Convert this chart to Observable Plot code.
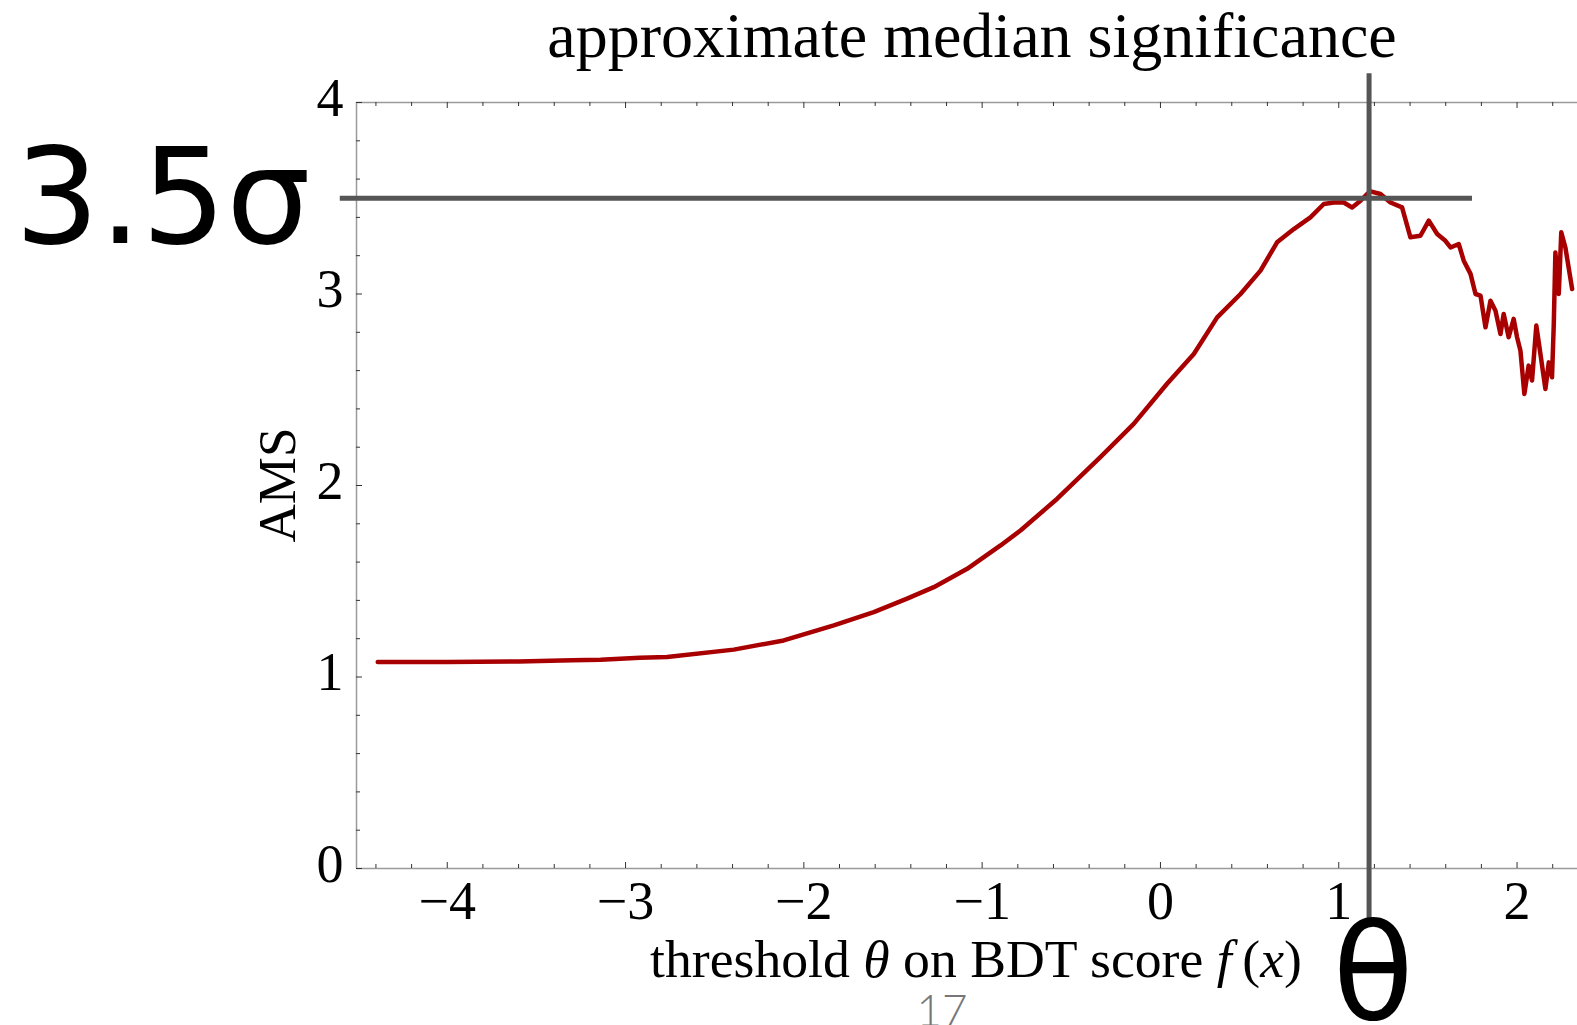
<!DOCTYPE html>
<html>
<head>
<meta charset="utf-8">
<script src="https://cdn.jsdelivr.net/npm/d3@7"></script>
<script src="https://cdn.jsdelivr.net/npm/@observablehq/plot@0.6"></script>
<style>
  html, body { margin: 0; padding: 0; background: #fff; overflow: hidden; }
  #chart { width: 1577px; height: 1025px; }
</style>
</head>
<body>
<div id="chart"></div>
<script>
// AMS as a function of the cut threshold on the BDT score
const theta = [
  -4.39, -4.0, -3.6, -3.3, -3.14, -2.92, -2.767, -2.393, -2.113, -1.832,
  -1.608, -1.421, -1.271, -1.084, -0.897, -0.785, -0.579, -0.337, -0.150, 0.037,
  0.187, 0.318, 0.449, 0.561, 0.654, 0.748, 0.841, 0.916, 0.972, 1.028,
  1.075, 1.122, 1.159, 1.178, 1.234, 1.290, 1.355, 1.402, 1.458, 1.505,
  1.552, 1.598, 1.627, 1.673, 1.701, 1.739, 1.767, 1.795, 1.823, 1.851,
  1.879, 1.907, 1.925, 1.953, 1.981, 2.000, 2.019, 2.041, 2.065, 2.084,
  2.108, 2.131, 2.159, 2.178, 2.196, 2.206, 2.215, 2.234, 2.248, 2.271,
  2.309
];
const ams = [
  1.078, 1.078, 1.081, 1.087, 1.090, 1.100, 1.104, 1.143, 1.191, 1.270,
  1.339, 1.409, 1.469, 1.565, 1.687, 1.765, 1.931, 2.148, 2.322, 2.531,
  2.687, 2.878, 3.000, 3.122, 3.270, 3.339, 3.400, 3.470, 3.478, 3.478,
  3.452, 3.487, 3.522, 3.536, 3.522, 3.478, 3.452, 3.296, 3.304, 3.383,
  3.313, 3.278, 3.243, 3.261, 3.174, 3.105, 3.000, 2.991, 2.826, 2.965,
  2.913, 2.791, 2.896, 2.774, 2.870, 2.774, 2.704, 2.478, 2.626, 2.548,
  2.835, 2.687, 2.504, 2.643, 2.565, 2.844, 3.217, 3.000, 3.322, 3.243,
  3.026
];

// Best cut and the significance reached there
const bestTheta = 1.17;
const bestAms = 3.5;
const amsGuideX = [-4.6, 1.75];
const thetaGuideY = [-0.3, 4.15];

// Axes
const xDomain = [-4.509, 2.339];
const yDomain = [0, 4];
const xTicks = [-4, -3, -2, -1, 0, 1, 2];
const yTicks = [0, 1, 2, 3, 4];
const xMinor = d3.range(-44, 24, 2).map(d => d / 10).filter(d => !xTicks.includes(d));
const yMinor = d3.range(0, 41, 2).map(d => d / 10).filter(d => !yTicks.includes(d));
const intFormat = d => (d < 0 ? "\u2212" : "") + Math.abs(d);

const titleText = "approximate median significance";
const yLabel = "AMS";
const sigmaLabel = "3.5σ";
const thetaLabel = "θ";
const pageNumber = "17";

const W = 1577, H = 1025;
const margin = {top: 102, right: 0, bottom: 157, left: 356};
const frameH = H - margin.top - margin.bottom;
const frameW = W - margin.left - margin.right;

const data = theta.map((t, i) => ({t, a: ams[i]}));
const serif = "'Liberation Serif', 'Times New Roman', serif";
const sans = "'DejaVu Sans', sans-serif";

const plot = Plot.plot({
  width: W,
  height: H,
  marginTop: margin.top,
  marginRight: margin.right,
  marginBottom: margin.bottom,
  marginLeft: margin.left,
  style: {fontFamily: serif, fontSize: "53px", color: "#000", background: "#fff", overflow: "visible"},
  x: {domain: xDomain, label: null},
  y: {domain: yDomain, label: null},
  marks: [
    // frame edges
    Plot.ruleX([xDomain[0]], {stroke: "#9a9a9a", strokeWidth: 1.5}),
    Plot.ruleY(yDomain, {stroke: "#9a9a9a", strokeWidth: 1.5}),
    // inward ticks, bottom and top
    Plot.tickX(xTicks, {x: d => d, insetTop: frameH - 6, stroke: "#333", strokeWidth: 1}),
    Plot.tickX(xMinor, {x: d => d, insetTop: frameH - 4, stroke: "#333", strokeWidth: 1}),
    Plot.tickX(xTicks, {x: d => d, insetBottom: frameH - 6, stroke: "#333", strokeWidth: 1}),
    Plot.tickX(xMinor, {x: d => d, insetBottom: frameH - 4, stroke: "#333", strokeWidth: 1}),
    // inward ticks, left
    Plot.tickY(yTicks, {y: d => d, insetRight: frameW - 6, stroke: "#333", strokeWidth: 1}),
    Plot.tickY(yMinor, {y: d => d, insetRight: frameW - 4, stroke: "#333", strokeWidth: 1}),
    Plot.axisX({ticks: xTicks, tickFormat: intFormat, tickSize: 0, tickPadding: 12, fontSize: 54}),
    Plot.axisY({ticks: yTicks, tickFormat: intFormat, tickSize: 0, tickPadding: 13, dy: -4, fontSize: 54}),
    // the AMS curve
    Plot.line(data, {x: "t", y: "a", stroke: "#a80000", strokeWidth: 4.5, strokeLinejoin: "round"}),
    // guides at the best cut
    Plot.ruleY([bestAms], {x1: amsGuideX[0], x2: amsGuideX[1], stroke: "#555", strokeWidth: 5}),
    Plot.ruleX([bestTheta], {y1: thetaGuideY[0], y2: thetaGuideY[1], stroke: "#555", strokeWidth: 5}),
    Plot.text([bestAms], {y: d => d, text: () => sigmaLabel, frameAnchor: "left", textAnchor: "end",
      dx: -46, dy: 2, fontFamily: sans, fontSize: 133, fill: "#000"}),
    Plot.text([bestTheta], {x: d => d, text: () => thetaLabel, frameAnchor: "bottom",
      dx: 4, dy: 150, fontFamily: sans, fontSize: 133, fill: "#000"})
  ]
});

document.getElementById("chart").appendChild(plot);

const svg = d3.select(plot);
const cx = 972;

// title
svg.append("text")
  .attr("x", cx).attr("y", 57)
  .attr("text-anchor", "middle")
  .attr("font-family", serif).attr("font-size", 64)
  .attr("fill", "#000")
  .text(titleText);

// x-axis label with italic symbols
const xl = svg.append("text")
  .attr("x", cx + 4).attr("y", 977)
  .attr("text-anchor", "middle")
  .attr("font-family", serif).attr("font-size", 53.7)
  .attr("fill", "#000");
xl.append("tspan").text("threshold ");
xl.append("tspan").attr("font-style", "italic").text("θ");
xl.append("tspan").text(" on BDT score ");
xl.append("tspan").attr("font-style", "italic").text("f");
xl.append("tspan").text("\u2009(");
xl.append("tspan").attr("font-style", "italic").text("x");
xl.append("tspan").text(")");

// y-axis label
svg.append("text")
  .attr("transform", "translate(295,485) rotate(-90)")
  .attr("text-anchor", "middle")
  .attr("font-family", serif).attr("font-size", 53)
  .attr("fill", "#000")
  .text(yLabel);

// page number
svg.append("text")
  .attr("x", 942).attr("y", 1026)
  .attr("text-anchor", "middle")
  .attr("font-family", "Lato, 'Open Sans', sans-serif").attr("font-weight", 300)
  .attr("font-size", 44)
  .attr("fill", "#777")
  .text(pageNumber);
</script>
</body>
</html>
